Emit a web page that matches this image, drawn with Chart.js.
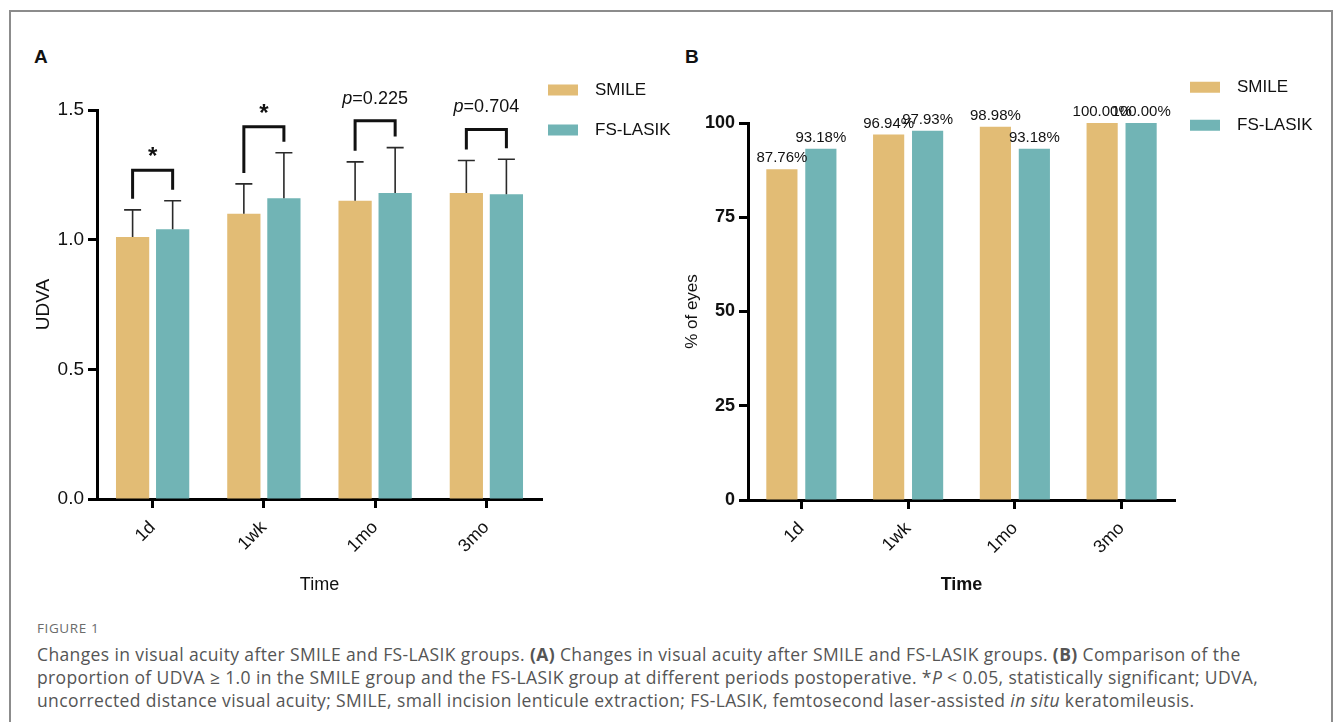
<!DOCTYPE html>
<html>
<head>
<meta charset="utf-8">
<script src="https://cdn.jsdelivr.net/npm/chart.js@4.4.1/dist/chart.umd.min.js"></script>
<style>
  body { margin: 0; background: #fff; width: 1335px; height: 722px; overflow: hidden; position: relative; font-family: 'Liberation Sans', Arial, sans-serif; }
  #frame { position: absolute; left: 9px; top: 10px; width: 1320px; height: 760px; border: 2px solid #8c8c8c; border-bottom: none; }
  .tag { position: absolute; font-weight: bold; font-size: 19px; color: #111; }
  .wrap { position: absolute; }
  #wrapA { left: 20px; top: 40px; width: 660px; height: 560px; }
  #wrapB { left: 680px; top: 40px; width: 650px; height: 560px; }
  #figno { position: absolute; left: 37px; top: 619px; font: 13.5px 'Open Sans', sans-serif; color: #6b6b6b; letter-spacing: 0.6px; }
  #caption { position: absolute; left: 37px; top: 643px; font: 17.5px 'Open Sans', sans-serif; line-height: 23px; color: #555; white-space: nowrap; letter-spacing: 0.38px; }
</style>
</head>
<body>
<div id="frame"></div>
<div class="tag" style="left:34px;top:46px">A</div>
<div class="tag" style="left:685px;top:46px">B</div>
<div class="wrap" id="wrapA"><canvas id="chartA" width="660" height="560"></canvas></div>
<div class="wrap" id="wrapB"><canvas id="chartB" width="650" height="560"></canvas></div>
<div id="figno">FIGURE 1</div>
<div id="caption">Changes in visual acuity after SMILE and FS-LASIK groups. <b>(A)</b> Changes in visual acuity after SMILE and FS-LASIK groups. <b>(B)</b> Comparison of the<br>proportion of UDVA &ge; 1.0 in the SMILE group and the FS-LASIK group at different periods postoperative. *<i>P</i> &lt; 0.05, statistically significant; UDVA,<br>uncorrected distance visual acuity; SMILE, small incision lenticule extraction; FS-LASIK, femtosecond laser-assisted <i>in situ</i> keratomileusis.</div>

<script>
// ── datos ──
const timePoints = ['1d', '1wk', '1mo', '3mo'];
const groupNames = ['SMILE', 'FS-LASIK'];

// panel A: UDVA media + DE
const smileUdva = [1.01, 1.10, 1.15, 1.18];
const smileSd   = [0.105, 0.115, 0.15, 0.125];
const lasikUdva = [1.04, 1.16, 1.18, 1.175];
const lasikSd   = [0.11, 0.175, 0.175, 0.135];
const udvaTicks = [0, 0.5, 1.0, 1.5];
const sigLabels = ['*', '*', 'p=0.225', 'p=0.704'];
const bracketLevel = [1.268, 1.435, 1.459, 1.425];

// panel B: % ojos UDVA >= 1.0
const smileEyes = [87.76, 96.94, 98.98, 100];
const lasikEyes = [93.18, 97.93, 93.18, 100];
const eyesTicks = [0, 25, 50, 75, 100];

const COL_SMILE = '#E2BC75';
const COL_LASIK = '#71B4B5';
const FONT = "'Liberation Sans', Arial, sans-serif";

// mover la leyenda a una posición fija (en px del canvas)
function legendAt(left, top) {
  return {
    id: 'legendAt',
    afterLayout(chart) {
      const lg = chart.legend;
      const w = lg.width, h = lg.height;
      lg.left = left; lg.top = top; lg.right = left + w; lg.bottom = top + h;
    }
  };
}

function legendOpts(pad) {
  return {
    display: true,
    position: 'chartArea',
    align: 'start',
    labels: {
      boxWidth: 30, boxHeight: 11, padding: pad, color: '#111',
      font: { family: FONT, size: 17 },
      generateLabels(chart) {
        const items = Chart.defaults.plugins.legend.labels.generateLabels(chart);
        items.forEach(it => { it.text = '\u2002' + it.text; it.lineWidth = 0; });
        return items;
      }
    }
  };
}

function axisX(titleText, bold, height) {
  return {
    type: 'category',
    offset: true,
    grid: { display: true, offset: false, drawOnChartArea: false, drawTicks: true, tickLength: 9, tickWidth: 3, tickColor: '#000' },
    border: { display: true, width: 3, color: '#000' },
    ticks: { color: '#111', font: { family: FONT, size: 18 }, minRotation: 45, maxRotation: 45, padding: 9 },
    title: { display: true, text: titleText, color: '#111', font: { family: FONT, size: 18, weight: bold ? 'bold' : 'normal' }, padding: { top: 0, bottom: 4 } },
    afterFit: s => { s.height = height; }
  };
}

// ── barras de error (solo hacia arriba) ──
const errorBars = {
  id: 'errorBars',
  afterDatasetsDraw(chart) {
    const { ctx, scales: { y } } = chart;
    const sds = [smileSd, lasikSd];
    ctx.save();
    ctx.strokeStyle = '#2a2a2a';
    ctx.lineWidth = 1.6;
    chart.data.datasets.forEach((ds, i) => {
      chart.getDatasetMeta(i).data.forEach((bar, j) => {
        const top = y.getPixelForValue(ds.data[j] + sds[i][j]);
        ctx.beginPath();
        ctx.moveTo(bar.x, bar.y);
        ctx.lineTo(bar.x, top);
        ctx.moveTo(bar.x - 8.5, top);
        ctx.lineTo(bar.x + 8.5, top);
        ctx.stroke();
      });
    });
    ctx.restore();
  }
};

// ── corchetes de significancia ──
const brackets = {
  id: 'brackets',
  afterDatasetsDraw(chart) {
    const { ctx, scales: { y } } = chart;
    const m0 = chart.getDatasetMeta(0).data, m1 = chart.getDatasetMeta(1).data;
    ctx.save();
    ctx.fillStyle = '#111';
    timePoints.forEach((t, j) => {
      const x0 = m0[j].x, x1 = m1[j].x;
      const yL = y.getPixelForValue(smileUdva[j] + smileSd[j]) - 11;
      const yR = y.getPixelForValue(lasikUdva[j] + lasikSd[j]) - 11;
      const yB = y.getPixelForValue(bracketLevel[j]);
      ctx.lineWidth = 3;
      ctx.strokeStyle = '#111';
      ctx.lineJoin = 'miter';
      ctx.beginPath();
      ctx.moveTo(x0, yL); ctx.lineTo(x0, yB); ctx.lineTo(x1, yB); ctx.lineTo(x1, yR);
      ctx.stroke();

      const cx = (x0 + x1) / 2;
      ctx.textBaseline = 'alphabetic';
      if (sigLabels[j] === '*') {
        ctx.font = `bold 24px ${FONT}`;
        ctx.textAlign = 'center';
        ctx.fillText('*', cx, yB - 6);
      } else {
        const rest = sigLabels[j].slice(1);
        ctx.font = `italic 18px ${FONT}`;
        const wp = ctx.measureText('p').width;
        ctx.font = `18px ${FONT}`;
        const wr = ctx.measureText(rest).width;
        const x = cx - (wp + wr) / 2;
        ctx.textAlign = 'left';
        ctx.font = `italic 18px ${FONT}`;
        ctx.fillText('p', x, yB - 17);
        ctx.font = `18px ${FONT}`;
        ctx.fillText(rest, x + wp, yB - 17);
      }
    });
    ctx.restore();
  }
};

// ── etiquetas de porcentaje ──
const pctLabels = {
  id: 'pctLabels',
  afterDatasetsDraw(chart) {
    const { ctx } = chart;
    ctx.save();
    ctx.font = `15px ${FONT}`;
    ctx.fillStyle = '#111';
    ctx.textAlign = 'center';
    ctx.textBaseline = 'alphabetic';
    chart.data.datasets.forEach((ds, i) => {
      chart.getDatasetMeta(i).data.forEach((bar, j) => {
        ctx.fillText(ds.data[j].toFixed(2) + '%', bar.x, bar.y - 7);
      });
    });
    ctx.restore();
  }
};

// ═══════════ PANEL A ═══════════
new Chart(document.getElementById('chartA'), {
  type: 'bar',
  data: {
    labels: timePoints,
    datasets: [
      { label: groupNames[0], data: smileUdva, backgroundColor: COL_SMILE, categoryPercentage: 0.72, barPercentage: 0.83 },
      { label: groupNames[1], data: lasikUdva, backgroundColor: COL_LASIK, categoryPercentage: 0.72, barPercentage: 0.83 }
    ]
  },
  options: {
    responsive: false,
    animation: false,
    layout: { padding: { top: 70, right: 138, left: 0, bottom: 0 } },
    plugins: { legend: legendOpts(23), tooltip: { enabled: false } },
    scales: {
      x: axisX('Time', false, 101),
      y: {
        min: 0, max: 1.5,
        afterBuildTicks: s => { s.ticks = udvaTicks.map(v => ({ value: v })); },
        grid: { drawOnChartArea: false, tickLength: 9, tickWidth: 3, tickColor: '#000' },
        border: { display: true, width: 3, color: '#000' },
        ticks: { color: '#111', font: { family: FONT, size: 19 }, padding: 4, callback: v => v.toFixed(1) },
        title: { display: true, text: 'UDVA', color: '#111', font: { family: FONT, size: 19 }, padding: { top: 12 } },
        afterFit: s => { s.width = 77; }
      }
    }
  },
  plugins: [errorBars, brackets, legendAt(505, 18.5)]
});

// ═══════════ PANEL B ═══════════
new Chart(document.getElementById('chartB'), {
  type: 'bar',
  data: {
    labels: timePoints,
    datasets: [
      { label: groupNames[0], data: smileEyes, backgroundColor: COL_SMILE, categoryPercentage: 0.73, barPercentage: 0.8 },
      { label: groupNames[1], data: lasikEyes, backgroundColor: COL_LASIK, categoryPercentage: 0.73, barPercentage: 0.8 }
    ]
  },
  options: {
    responsive: false,
    animation: false,
    layout: { padding: { top: 83, right: 155, left: 0, bottom: 0 } },
    plugins: { legend: legendOpts(21), tooltip: { enabled: false } },
    scales: {
      x: axisX('Time', true, 100),
      y: {
        min: 0, max: 100,
        afterBuildTicks: s => { s.ticks = eyesTicks.map(v => ({ value: v })); },
        grid: { drawOnChartArea: false, tickLength: 9, tickWidth: 3, tickColor: '#000' },
        border: { display: true, width: 3, color: '#000' },
        ticks: { color: '#111', font: { family: FONT, size: 18, weight: 'bold' }, padding: 4 },
        title: { display: true, text: '% of eyes', color: '#111', font: { family: FONT, size: 17 }, padding: { top: 2 } },
        afterFit: s => { s.width = 68; }
      }
    }
  },
  plugins: [pctLabels, legendAt(489, 17.7)]
});
</script>
</body>
</html>
